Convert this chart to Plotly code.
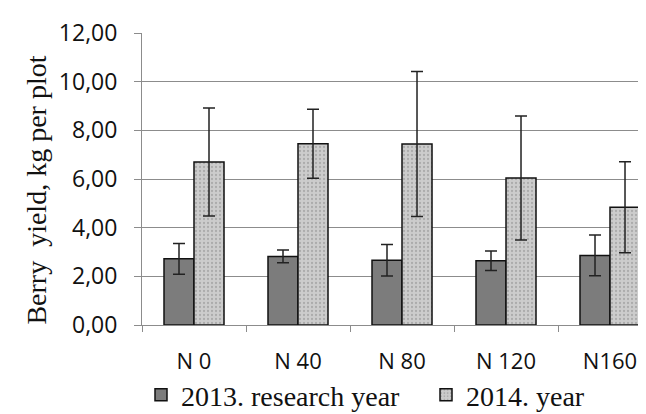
import plotly.graph_objects as go

categories = ["N 0", "N 40", "N 80", "N 120", "N160"]
y2013 = [2.72, 2.82, 2.66, 2.64, 2.86]
err2013 = [0.63, 0.26, 0.65, 0.40, 0.84]
y2014 = [6.70, 7.45, 7.44, 6.04, 4.84]
err2014 = [2.22, 1.42, 2.98, 2.55, 1.87]
series_names = ["2013. research year", "2014. year"]

fig = go.Figure()
fig.add_trace(go.Bar(
    x=categories, y=y2013, name=series_names[0], legend="legend",
    marker=dict(color="#7c7c7c", line=dict(color="#111111", width=1.5)),
    error_y=dict(type="data", array=err2013, color="#222222", thickness=1.5, width=6),
))
fig.add_trace(go.Bar(
    x=categories, y=y2014, name=series_names[1], legend="legend2",
    marker=dict(color="#c4c4c4", line=dict(color="#111111", width=1.5),
                pattern=dict(shape=".", fgcolor="#8a8a8a", bgcolor="#cccccc", size=4, solidity=0.25)),
    error_y=dict(type="data", array=err2014, color="#222222", thickness=1.5, width=6),
))

legend_common = dict(orientation="h", xref="container", yref="container",
                     xanchor="left", yanchor="middle",
                     font=dict(family="Liberation Serif", size=28, color="#111111"),
                     itemwidth=30, bgcolor="rgba(0,0,0,0)")

fig.update_layout(
    width=646, height=414,
    margin=dict(l=134, r=0, t=25, b=97, autoexpand=False),
    paper_bgcolor="white", plot_bgcolor="white",
    barmode="group", bargap=0.423, bargroupgap=0,
    separators=", ",
    showlegend=True,
    legend=dict(legend_common, x=133 / 646, y=27 / 414),
    legend2=dict(legend_common, x=418 / 646, y=27 / 414),
    font=dict(family="Open Sans", color="#111111"),
)
fig.update_yaxes(
    range=[0, 12], dtick=2, tickformat=".2f", automargin=False,
    showgrid=True, gridcolor="#8c8c8c", gridwidth=1,
    showline=True, linecolor="#8c8c8c", linewidth=1,
    ticks="outside", ticklen=7, tickcolor="#8c8c8c",
    ticklabelstandoff=12,
    tickfont=dict(family="Open Sans", size=23, color="#111111"),
    zeroline=False,
)
fig.update_xaxes(
    automargin=False, range=[-0.5, 4.423],
    showline=True, linecolor="#8c8c8c", linewidth=1,
    ticks="outside", ticklen=6, tickcolor="#8c8c8c", tickson="boundaries",
    ticklabelstandoff=17,
    tickfont=dict(family="Open Sans", size=22, color="#111111"),
)
fig.add_annotation(
    text="Berry  yield, kg per plot", textangle=-90,
    xref="paper", yref="paper", x=(11 - 134) / 512, y=0.462, xanchor="left", yanchor="middle",
    showarrow=False, font=dict(family="Liberation Serif", size=28, color="#111111"),
)

fig.write_html("out.html")
